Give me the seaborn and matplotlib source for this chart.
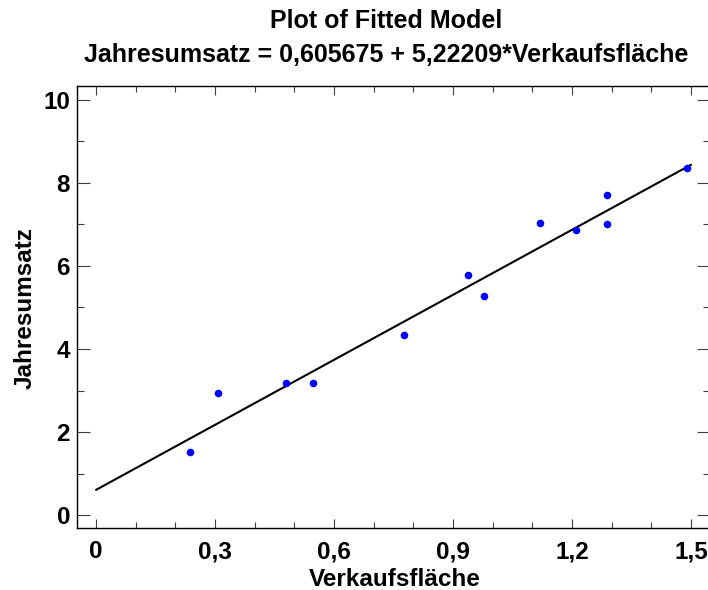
import numpy as np
import pandas as pd
import matplotlib
matplotlib.use("Agg")
import matplotlib.pyplot as plt
import seaborn as sns
from matplotlib.ticker import FixedLocator, MultipleLocator

# ---- data ----
verkaufsflaeche = [0.237, 0.307, 0.479, 0.547, 0.776, 0.938, 0.978, 1.119, 1.210, 1.288, 1.288, 1.490]
jahresumsatz = [1.52, 2.94, 3.17, 3.17, 4.34, 5.78, 5.28, 7.04, 6.87, 7.71, 7.01, 8.36]
intercept = 0.605675
slope = 5.22209
line_x = [0.0, 1.5]

x_ticks = [0.0, 0.3, 0.6, 0.9, 1.2, 1.5]
x_tick_labels = ["0", "0,3", "0,6", "0,9", "1,2", "1,5"]
y_ticks = [0, 2, 4, 6, 8, 10]
y_tick_labels = ["0", "2", "4", "6", "8", "10"]

title_line1 = "Plot of Fitted Model"
title_line2 = "Jahresumsatz = 0,605675 + 5,22209*Verkaufsfläche"
x_label = "Verkaufsfläche"
y_label = "Jahresumsatz"

points = pd.DataFrame({"Verkaufsfläche": verkaufsflaeche, "Jahresumsatz": jahresumsatz})
fit = pd.DataFrame({"x": line_x})
fit["y"] = intercept + slope * fit["x"]

# ---- style ----
sns.set_theme(style="white")
plt.rcParams["font.family"] = ["Liberation Sans", "DejaVu Sans"]
plt.rcParams["font.weight"] = "bold"
plt.rcParams["text.color"] = "black"
plt.rcParams["axes.labelcolor"] = "black"
plt.rcParams["xtick.color"] = "black"
plt.rcParams["ytick.color"] = "black"

W, H = 708, 590
fig = plt.figure(figsize=(W / 100, H / 100), dpi=100)
left_px, right_px, top_px, bottom_px = 77, 710, 86, 528
ax = fig.add_axes([left_px / W, 1 - bottom_px / H, (right_px - left_px) / W, (bottom_px - top_px) / H])

sns.lineplot(data=fit, x="x", y="y", ax=ax, color="black", linewidth=1.5)
sns.scatterplot(data=points, x="Verkaufsfläche", y="Jahresumsatz", ax=ax,
                color="#0000ff", s=30, linewidth=0, zorder=3)

ax.set_xlim(-0.048, 1.548)
ax.set_ylim(-0.313, 10.337)

ax.xaxis.set_major_locator(FixedLocator(x_ticks))
ax.set_xticklabels(x_tick_labels)
ax.xaxis.set_minor_locator(MultipleLocator(0.1))
ax.yaxis.set_major_locator(FixedLocator(y_ticks))
ax.set_yticklabels(y_tick_labels)
ax.yaxis.set_minor_locator(MultipleLocator(1))

fs = 17.5
for lab in ax.get_xticklabels() + ax.get_yticklabels():
    lab.set_fontsize(fs)
    lab.set_fontweight("bold")
    lab.set_color("black")

tc = "#404040"
ax.tick_params(axis="x", which="major", direction="in", length=6.3, width=0.8, color=tc,
               top=True, bottom=True, pad=9, labelcolor="black")
ax.tick_params(axis="x", which="minor", direction="in", length=4.0, width=0.8, color=tc,
               top=True, bottom=True)
ax.tick_params(axis="y", which="major", direction="in", length=9.4, width=0.8, color=tc,
               left=True, right=True, pad=5, labelcolor="black")
ax.tick_params(axis="y", which="minor", direction="in", length=5.0, width=0.8, color=tc,
               left=True, right=True)

for sp in ax.spines.values():
    sp.set_visible(True)
    sp.set_color("black")
    sp.set_linewidth(1.0)

ax.set_xlabel(x_label, fontsize=fs, fontweight="bold", color="black")
ax.set_ylabel(y_label, fontsize=fs, fontweight="bold", color="black")
ax.xaxis.set_label_coords((394.5 - left_px) / (right_px - left_px), -(568 - bottom_px) / (bottom_px - top_px))
ax.yaxis.set_label_coords(-(left_px - 37) / (right_px - left_px), 0.498)

cx = 386 / W
tfs = 18
fig.text(cx, 1 - 28 / H, title_line1, ha="center", va="baseline", fontsize=tfs, fontweight="bold", color="black")
fig.text(cx, 1 - 62 / H, title_line2, ha="center", va="baseline", fontsize=tfs, fontweight="bold", color="black")

fig.savefig("out.png", dpi=100, facecolor="white")
